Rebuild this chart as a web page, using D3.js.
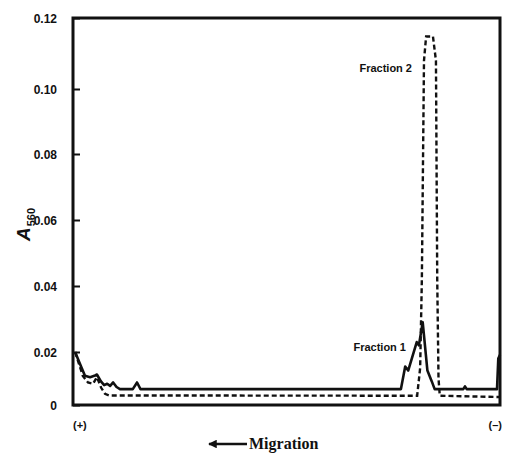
<!DOCTYPE html>
<html>
<head>
<meta charset="utf-8">
<script src="https://cdn.jsdelivr.net/npm/d3@7"></script>
<style>
  body { margin: 0; background: #fff; }
  svg { display: block; }
  .tick text { font-family: "Liberation Sans", Arial, sans-serif; font-weight: bold; font-size: 12px; fill: #111; }
  .lbl { font-family: "Liberation Sans", Arial, sans-serif; font-weight: bold; font-size: 11px; fill: #111; }
</style>
</head>
<body>
<svg id="chart" width="505" height="453"></svg>
<script>
// Tick values on the absorbance axis (the printed scale is not quite even).
var yTicks = [0, 0.02, 0.04, 0.06, 0.08, 0.10, 0.12];
var yTickLabels = ["0", "0.02", "0.04", "0.06", "0.08", "0.10", "0.12"];

// Fraction 1 (solid trace): position along the gel (0 = anode, 100 = cathode) and A560.
var frac1Pos = [0.5, 1.5, 2.8, 4.0, 5.0, 5.6, 6.5, 7.3, 8.0, 8.7, 9.4, 10.2, 11, 14, 15, 15.8,
  76.8, 77.8, 78.5, 80.5, 81, 81.9, 83, 84, 84.7, 91.4, 91.8, 92.2, 99.3, 99.6, 100];
var frac1A = [0.020, 0.016, 0.011, 0.0105, 0.011, 0.0115, 0.009, 0.0075, 0.008, 0.0072, 0.0085, 0.0068, 0.006, 0.006, 0.0085, 0.006,
  0.006, 0.0145, 0.013, 0.023, 0.022, 0.029, 0.013, 0.009, 0.006, 0.006, 0.007, 0.006, 0.006, 0.0175, 0.019];

// Fraction 2 (dashed trace).
var frac2Pos = [0.5, 2.3, 3.5, 4.7, 5.6, 6.6, 7.5, 8.5, 80.6, 81.3, 81.7, 82.2, 82.7, 84.3, 85.0, 85.3, 85.6, 85.9, 100];
var frac2A = [0.020, 0.011, 0.0085, 0.008, 0.0105, 0.0065, 0.0042, 0.0036, 0.0035, 0.014, 0.042, 0.108, 0.1148, 0.1148, 0.108, 0.042, 0.010, 0.0035, 0.003];

var svg = d3.select("#chart");
var plot = {left: 73, right: 500, top: 18, bottom: 405};

var x = d3.scaleLinear().domain([0, 100]).range([plot.left, plot.right]);
// piecewise, following the printed tick spacing
var y = d3.scaleLinear().domain(yTicks).range([405, 352, 286, 220, 154, 89, 18]);

var line = d3.line()
  .x(function(d){ return x(d[0]); })
  .y(function(d){ return y(d[1]); });

var frac1 = d3.zip(frac1Pos, frac1A);
var frac2 = d3.zip(frac2Pos, frac2A);

svg.append("path").datum(frac2)
  .attr("d", line)
  .attr("fill", "none")
  .attr("stroke", "#111")
  .attr("stroke-width", 2.4)
  .attr("stroke-dasharray", "5,3");

svg.append("path").datum(frac1)
  .attr("d", line)
  .attr("fill", "none")
  .attr("stroke", "#111")
  .attr("stroke-width", 2.6)
  .attr("stroke-linejoin", "round");

// y axis, ticks pointing inward
var yAxis = d3.axisLeft(y)
  .tickValues(yTicks)
  .tickFormat(function(d, i){ return yTickLabels[i]; })
  .tickSize(-7)
  .tickPadding(16);
var ga = svg.append("g").attr("transform", "translate(" + plot.left + ",0)").call(yAxis);
ga.select(".domain").remove();
ga.selectAll(".tick line").attr("stroke", "#111").attr("stroke-width", 2);
ga.selectAll(".tick text").attr("dy", "0.36em");

// frame
svg.append("rect")
  .attr("x", plot.left).attr("y", plot.top)
  .attr("width", plot.right - plot.left).attr("height", plot.bottom - plot.top)
  .attr("fill", "none").attr("stroke", "#111").attr("stroke-width", 3);

// y title A560
var yt = svg.append("text")
  .attr("transform", "translate(30,241) rotate(-90)")
  .attr("fill", "#111");
yt.append("tspan")
  .attr("font-family", "'Liberation Sans', Arial, sans-serif")
  .attr("font-style", "italic").attr("font-weight", "bold")
  .attr("font-size", 19).text("A");
yt.append("tspan")
  .attr("font-family", "'Liberation Sans', Arial, sans-serif")
  .attr("font-weight", "bold").attr("font-size", 11)
  .attr("dx", 1).attr("dy", 5).text("560");

// trace labels
svg.append("text").attr("class", "lbl").attr("x", 412).attr("y", 72)
  .attr("text-anchor", "end").text("Fraction 2");
svg.append("text").attr("class", "lbl").attr("x", 406).attr("y", 351)
  .attr("text-anchor", "end").text("Fraction 1");

// electrode signs
svg.append("text").attr("class", "lbl").attr("x", 73).attr("y", 429)
  .attr("font-size", 13).text("(+)");
svg.append("text").attr("class", "lbl").attr("x", 502).attr("y", 429)
  .attr("text-anchor", "end").attr("font-size", 13).text("(\u2013)");

// migration arrow
svg.append("defs").append("marker")
  .attr("id", "head").attr("viewBox", "0 0 10 10")
  .attr("refX", 1).attr("refY", 5)
  .attr("markerWidth", 5).attr("markerHeight", 3.6).attr("orient", "auto")
  .append("path").attr("d", "M10,0 L0,5 L10,10 Z").attr("fill", "#111");
svg.append("line")
  .attr("x1", 209).attr("y1", 444).attr("x2", 247).attr("y2", 444)
  .attr("stroke", "#111").attr("stroke-width", 2.4)
  .attr("marker-start", "url(#head)");
svg.append("text").attr("x", 249).attr("y", 449)
  .attr("font-family", "'Liberation Serif', serif")
  .attr("font-weight", "bold").attr("font-size", 16)
  .attr("fill", "#111").text("Migration");
</script>
</body>
</html>
